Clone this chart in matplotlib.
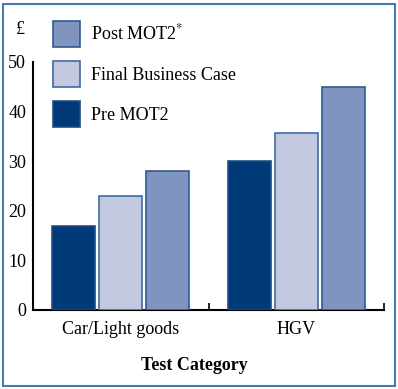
import matplotlib
matplotlib.use("Agg")
import matplotlib.pyplot as plt
import numpy as np
from matplotlib.patches import Rectangle

categories = ["Car/Light goods", "HGV"]
series_names = ["Pre MOT2", "Final Business Case", "Post MOT2$^{*}$"]
pre_mot2 = [17, 30]
final_bc = [23, 35.7]
post_mot2 = [28, 45]
yticks = [0, 10, 20, 30, 40, 50]

plt.rcParams['font.family'] = ['Liberation Serif', 'DejaVu Serif']
plt.rcParams['mathtext.fontset'] = 'stix'

colors = ["#003a78", "#c2c8df", "#7f94bf"]
edges = ["#1f4f86", "#3f6aa3", "#2f5a92"]

fig = plt.figure(figsize=(3.98, 3.89), dpi=100)
ax = fig.add_axes([33/398, 1-310/389, (384-33)/398, (310-62)/389])

x = np.arange(len(categories))
w = 0.245
step = 0.268
handles = []
for i, (vals, name) in enumerate(zip([pre_mot2, final_bc, post_mot2], series_names)):
    b = ax.bar(x + (i-1)*step, vals, width=w, color=colors[i], edgecolor=edges[i],
               linewidth=1.2, label=name, zorder=3)
    handles.append(b)

ax.set_xlim(-0.5, 1.5)
ax.set_ylim(0, 50)
ax.set_yticks(yticks)
ax.set_yticklabels([str(v) for v in yticks], fontsize=13)
ax.tick_params(axis='y', length=0, pad=5)
ax.set_xticks(x)
ax.set_xticklabels(categories, fontsize=13)
ax.tick_params(axis='x', which='major', length=0, pad=8)
ax.set_xticks([0.5, 1.5], minor=True)
ax.tick_params(axis='x', which='minor', direction='in', length=5, width=1.2)
for s in ['top', 'right']:
    ax.spines[s].set_visible(False)
for s in ['left', 'bottom']:
    ax.spines[s].set_linewidth(1.5)
    ax.spines[s].set_color('black')

fig.text(194/398, 1-366/389, "Test Category", fontsize=13, fontweight='bold',
         ha='center', va='center')
fig.text(20/398, 1-29/389, "£", fontsize=13, ha='center', va='center')

leg = fig.legend(handles[::-1], series_names[::-1], loc='upper left',
                 bbox_to_anchor=(46/398, 1-14/389), frameon=False, fontsize=13,
                 handlelength=1.5, handleheight=1.8, labelspacing=0.8,
                 handletextpad=0.6, borderaxespad=0)

fig.patches.append(Rectangle((3/398, 3/389), 392/398, 382/389, transform=fig.transFigure,
                             fill=False, edgecolor="#4a78b0", linewidth=1.5))

fig.savefig("out.png", dpi=100)
